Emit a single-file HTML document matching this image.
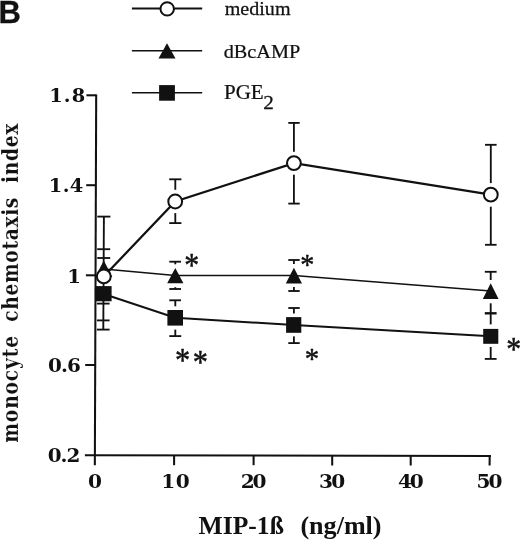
<!DOCTYPE html>
<html lang="en">
<head>
<meta charset="utf-8">
<title>Figure B</title>
<style>
html,body{margin:0;padding:0;background:#fff;}
body{width:520px;height:540px;overflow:hidden;}
svg{display:block;}
.ax{stroke:#111;stroke-width:2.05;fill:none;}
.eb{stroke:#111;stroke-width:1.85;fill:none;}
</style>
</head>
<body>
<svg width="520" height="540" viewBox="0 0 520 540">
<rect width="520" height="540" fill="#fff"/>

<!-- panel letter -->
<text x="-1.5" y="23" font-family='"Liberation Sans","DejaVu Sans",sans-serif' font-weight="bold" font-size="31" fill="#111" stroke="#111" stroke-width="0.3">B</text>
<!-- legend -->
<g stroke="#111" fill="none">
<line x1="131.9" y1="8.5" x2="202.2" y2="8.5" stroke-width="1.9"/>
<line x1="131.9" y1="50.7" x2="202.2" y2="50.7" stroke-width="1.5"/>
<line x1="131.9" y1="92.7" x2="202.2" y2="92.7" stroke-width="1.6"/>
</g>
<circle cx="167.2" cy="8.9" r="6.7" fill="#fff" stroke="#111" stroke-width="2"/>
<polygon points="167,43.2 175.5,58.5 158.5,58.5" fill="#111"/>
<rect x="159.1" y="85.1" width="15.8" height="15.6" fill="#111"/>
<text transform="translate(224.72,15.28) scale(1.052,1)" font-family='"Liberation Serif","DejaVu Serif",serif' font-weight="normal" font-size="19.08" fill="#111" stroke="#111" stroke-width="0.25">medium</text>
<text transform="translate(223.72,57.88) scale(1.031,1)" font-family='"Liberation Serif","DejaVu Serif",serif' font-weight="normal" font-size="19.65" fill="#111" stroke="#111" stroke-width="0.25">dBcAMP</text>
<text transform="translate(223.95,99.47) scale(1.051,1)" font-family='"Liberation Serif","DejaVu Serif",serif' font-weight="normal" font-size="20.00" fill="#111" stroke="#111" stroke-width="0.25">PGE</text>
<text transform="translate(263.22,108.67) scale(1.095,1)" font-family='"Liberation Serif","DejaVu Serif",serif' font-weight="normal" font-size="19.40" fill="#111" stroke="#111" stroke-width="0.25">2</text>
<!-- axes -->
<g class="ax">
<line x1="96.2" y1="94.4" x2="94.85" y2="465.2"/>
<line x1="84.9" y1="455.3" x2="490.8" y2="456"/>
<line x1="86.4" y1="95.3" x2="96.2" y2="95.3"/>
<line x1="86.2" y1="185.2" x2="95.9" y2="185.2"/>
<line x1="85.9" y1="275.3" x2="95.5" y2="275.3"/>
<line x1="85.2" y1="365" x2="95.2" y2="365"/>
<line x1="174.1" y1="455.4" x2="174.1" y2="465.2"/>
<line x1="253.6" y1="455.4" x2="253.6" y2="465.2"/>
<line x1="332.2" y1="455.6" x2="332.2" y2="465.5"/>
<line x1="410.7" y1="455.8" x2="410.7" y2="465.5"/>
<line x1="489.7" y1="455.1" x2="489.6" y2="465.4"/>
</g>
<!-- y tick labels -->
<text transform="translate(49.22,102.32) scale(1.050,1)" font-family='"DejaVu Serif","Liberation Serif",serif' font-weight="bold" font-size="18.48" letter-spacing="1.06" fill="#111">1.8</text>
<text transform="translate(48.72,192.22) scale(1.050,1)" font-family='"DejaVu Serif","Liberation Serif",serif' font-weight="bold" font-size="18.48" letter-spacing="0.42" fill="#111">1.4</text>
<text transform="translate(67.27,282.50) scale(1.050,1)" font-family='"DejaVu Serif","Liberation Serif",serif' font-weight="bold" font-size="18.86" letter-spacing="0.00" fill="#111">1</text>
<text transform="translate(48.05,372.21) scale(1.050,1)" font-family='"DejaVu Serif","Liberation Serif",serif' font-weight="bold" font-size="19.01" letter-spacing="-0.92" fill="#111">0.6</text>
<text transform="translate(47.65,462.21) scale(1.050,1)" font-family='"DejaVu Serif","Liberation Serif",serif' font-weight="bold" font-size="19.01" letter-spacing="-0.95" fill="#111">0.2</text>
<!-- x tick labels -->
<text transform="translate(88.04,488.01) scale(1.050,1)" font-family='"DejaVu Serif","Liberation Serif",serif' font-weight="bold" font-size="19.14" letter-spacing="0.00" fill="#111">0</text>
<text transform="translate(161.24,488.01) scale(1.050,1)" font-family='"DejaVu Serif","Liberation Serif",serif' font-weight="bold" font-size="19.14" letter-spacing="0.41" fill="#111">10</text>
<text transform="translate(240.84,488.01) scale(1.050,1)" font-family='"DejaVu Serif","Liberation Serif",serif' font-weight="bold" font-size="19.14" letter-spacing="-2.17" fill="#111">20</text>
<text transform="translate(319.09,488.01) scale(1.050,1)" font-family='"DejaVu Serif","Liberation Serif",serif' font-weight="bold" font-size="19.14" letter-spacing="-1.64" fill="#111">30</text>
<text transform="translate(398.10,488.01) scale(1.050,1)" font-family='"DejaVu Serif","Liberation Serif",serif' font-weight="bold" font-size="19.14" letter-spacing="-2.22" fill="#111">40</text>
<text transform="translate(476.44,488.01) scale(1.050,1)" font-family='"DejaVu Serif","Liberation Serif",serif' font-weight="bold" font-size="19.14" letter-spacing="-1.88" fill="#111">50</text>
<!-- axis titles -->
<text transform="translate(198.55,533.50) scale(1.058,1)" font-family='"Liberation Serif","DejaVu Serif",serif' font-weight="bold" font-size="24.20" letter-spacing="0.00" fill="#111">MIP-1ß</text>
<text transform="translate(300.39,533.50) scale(1.079,1)" font-family='"Liberation Serif","DejaVu Serif",serif' font-weight="bold" font-size="24.20" letter-spacing="0.00" fill="#111">(ng/ml)</text>
<text transform="translate(18.20,442.70) rotate(-90) scale(0.900,1)" font-family='"DejaVu Serif Condensed","DejaVu Serif","Liberation Serif",serif' font-weight="bold" font-size="23.00" letter-spacing="0.95" fill="#111" stroke="#fff" stroke-width="0.15">monocyte</text>
<text transform="translate(18.20,321.65) rotate(-90) scale(0.900,1)" font-family='"DejaVu Serif Condensed","DejaVu Serif","Liberation Serif",serif' font-weight="bold" font-size="23.00" letter-spacing="0.72" fill="#111" stroke="#fff" stroke-width="0.15">chemotaxis</text>
<text transform="translate(18.20,183.00) rotate(-90) scale(0.900,1)" font-family='"DejaVu Serif Condensed","DejaVu Serif","Liberation Serif",serif' font-weight="bold" font-size="23.00" letter-spacing="0.79" fill="#111" stroke="#fff" stroke-width="0.15">index</text>
<!-- error bars -->
<g class="eb">
<line x1="103.9" y1="216.6" x2="103.3" y2="329.6"/>
<line x1="97.3" y1="216.6" x2="110.4" y2="216.6"/>
<line x1="97.2" y1="249.2" x2="110.2" y2="249.2"/>
<line x1="97.2" y1="258" x2="110.2" y2="258"/>
<line x1="96.9" y1="303.6" x2="109.6" y2="303.6"/>
<line x1="96.9" y1="320.4" x2="109.6" y2="320.4"/>
<line x1="96.9" y1="329.6" x2="109.6" y2="329.6"/>
<line x1="169.2" y1="179.3" x2="181.4" y2="179.3"/><line x1="175.3" y1="179.4" x2="175.3" y2="189.8"/>
<line x1="175.3" y1="213.1" x2="175.3" y2="223.1"/><line x1="169.2" y1="223.1" x2="181.4" y2="223.1"/>
<line x1="169.3" y1="261.7" x2="181" y2="261.7"/><line x1="175.3" y1="261.7" x2="175.3" y2="264.3"/>
<line x1="175.3" y1="287.2" x2="175.3" y2="289"/><line x1="169.3" y1="289" x2="181" y2="289"/>
<line x1="169.3" y1="300.3" x2="181" y2="300.3"/><line x1="175.3" y1="300.3" x2="175.3" y2="306.3"/>
<line x1="175.3" y1="329.6" x2="175.3" y2="336.1"/><line x1="169.3" y1="336.1" x2="181.2" y2="336.1"/>
<line x1="288.3" y1="122.9" x2="299.7" y2="122.9"/><line x1="293.9" y1="122.9" x2="293.9" y2="151.8"/>
<line x1="293.9" y1="174.7" x2="293.9" y2="203.6"/><line x1="288.3" y1="203.6" x2="299.7" y2="203.6"/>
<line x1="288.3" y1="260" x2="299.7" y2="260"/><line x1="293.9" y1="260" x2="293.9" y2="264"/>
<line x1="293.9" y1="287" x2="293.9" y2="291"/><line x1="288.3" y1="291" x2="299.7" y2="291"/>
<line x1="288.3" y1="308" x2="299.7" y2="308"/><line x1="293.9" y1="308" x2="293.9" y2="313.5"/>
<line x1="293.9" y1="336.4" x2="293.9" y2="343.1"/><line x1="288.3" y1="343.1" x2="299.7" y2="343.1"/>
<line x1="485" y1="144.8" x2="496.6" y2="144.8"/><line x1="490.8" y1="144.8" x2="490.8" y2="183.1"/>
<line x1="490.8" y1="206.7" x2="490.8" y2="244.8"/><line x1="485" y1="244.8" x2="496.6" y2="244.8"/>
<line x1="484.8" y1="271.8" x2="496.6" y2="271.8"/><line x1="490.7" y1="271.8" x2="490.7" y2="280"/>
<line x1="490.7" y1="303.3" x2="490.7" y2="324.4"/><line x1="484.8" y1="313.3" x2="496.6" y2="313.3" stroke-width="2.4"/>
<line x1="490.7" y1="347" x2="490.7" y2="358.9"/><line x1="484.8" y1="358.9" x2="496.6" y2="358.9"/>
</g>
<!-- series lines -->
<polyline points="103.7,269 175.3,275.6 293.9,275.5 490.7,291.1" fill="none" stroke="#111" stroke-width="1.5"/>
<polyline points="103.7,294 175.2,317.7 293.9,325 490.7,336.3" fill="none" stroke="#111" stroke-width="2"/>
<polyline points="103.7,276.5 175.2,201.5 293.9,163.1 490.8,194.7" fill="none" stroke="#111" stroke-width="2.25"/>
<!-- markers -->
<g fill="#111">
<polygon points="103.8,260.4 112.3,277 95.3,277"/>
<polygon points="175.3,268 183.4,283.2 167.2,283.2"/>
<polygon points="293.9,267.7 302,283.4 285.8,283.4"/>
<polygon points="490.7,283.3 498.6,298.9 482.8,298.9"/>
<rect x="95.7" y="286.1" width="15.9" height="15.2"/>
<rect x="167.4" y="310" width="15.6" height="15.6"/>
<rect x="286.1" y="317.1" width="15.2" height="15.7"/>
<rect x="483.2" y="328.9" width="15.1" height="14.9"/>
</g>
<g fill="#fff" stroke="#111" stroke-width="2">
<circle cx="103.8" cy="276.4" r="6.9"/>
<circle cx="175.2" cy="201.5" r="6.9"/>
<circle cx="293.9" cy="163.1" r="6.9"/>
<circle cx="490.8" cy="194.7" r="6.9"/>
</g>
<!-- significance marks -->
<text transform="translate(184.36,276.04) scale(0.913,1)" font-family='"Liberation Serif","DejaVu Serif",serif' font-weight="normal" font-size="32.65" fill="#111" stroke="#111" stroke-width="0.5" stroke-linejoin="round">*</text>
<text transform="translate(174.93,370.87) scale(0.906,1)" font-family='"Liberation Serif","DejaVu Serif",serif' font-weight="normal" font-size="33.47" fill="#111" stroke="#111" stroke-width="0.5" stroke-linejoin="round">*</text>
<text transform="translate(192.73,372.59) scale(0.913,1)" font-family='"Liberation Serif","DejaVu Serif",serif' font-weight="normal" font-size="33.20" fill="#111" stroke="#111" stroke-width="0.5" stroke-linejoin="round">*</text>
<text transform="translate(300.15,273.86) scale(0.938,1)" font-family='"Liberation Serif","DejaVu Serif",serif' font-weight="normal" font-size="29.93" fill="#111" stroke="#111" stroke-width="0.5" stroke-linejoin="round">*</text>
<text transform="translate(304.71,368.23) scale(0.954,1)" font-family='"Liberation Serif","DejaVu Serif",serif' font-weight="normal" font-size="30.20" fill="#111" stroke="#111" stroke-width="0.5" stroke-linejoin="round">*</text>
<text transform="translate(506.26,360.24) scale(0.913,1)" font-family='"Liberation Serif","DejaVu Serif",serif' font-weight="normal" font-size="32.65" fill="#111" stroke="#111" stroke-width="0.5" stroke-linejoin="round">*</text>
</svg>
</body>
</html>
